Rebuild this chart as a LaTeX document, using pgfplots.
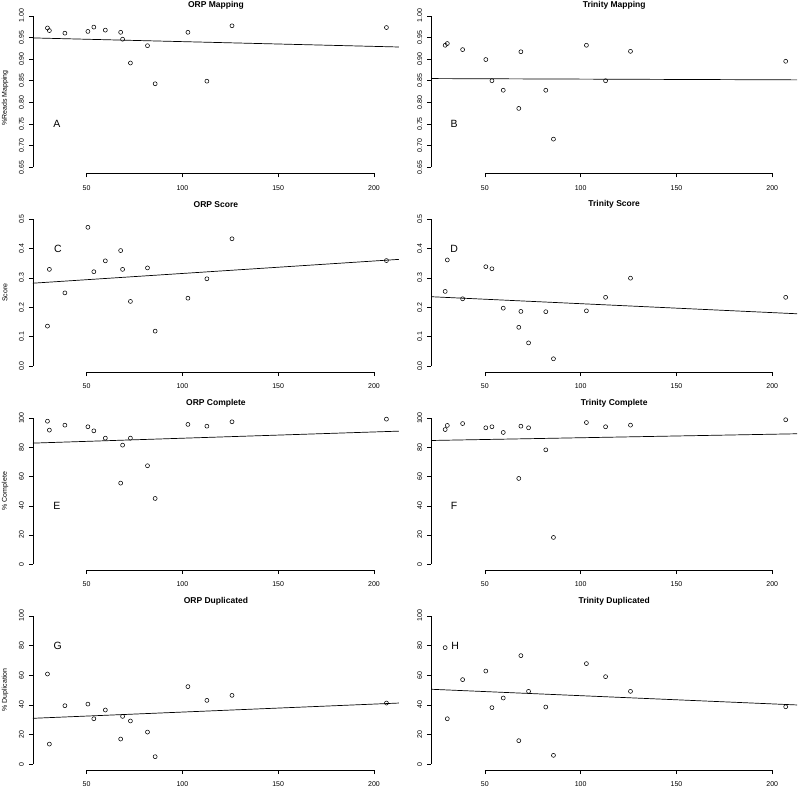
\documentclass[border=0pt]{standalone}
\usepackage{fontspec}
\setmainfont{Liberation Sans}
\usepackage{pgfplots}
\pgfplotsset{compat=1.18}
\newcommand{\tkf}{\fontsize{7}{8}\selectfont}
\pgfplotsset{
  rpanel/.style={
    scale only axis, width=366pt,
    xmin=22, xmax=213,
    axis x line*=bottom, axis y line*=left,
    axis line style={draw=none},
    xtick={50,100,150,200},
    tick align=outside, major tick length=4pt,
    tick style={black, line width=0.5pt},
    /pgf/number format/assume math mode=true,
    ticklabel style={font=\tkf},
    xticklabel style={anchor=north, yshift=-4.5pt},
    yticklabel style={rotate=90, anchor=south, yshift=1.5pt},
    label style={font=\tkf},
    ylabel style={at={(axis description cs:-0.076,0.5)}, anchor=center},
    title style={font=\bfseries\fontsize{8.5}{10}\selectfont, at={(axis description cs:0.5,1)}, anchor=center, yshift=3pt},
    clip=false,
  },
  pts/.style={only marks, mark=o, mark size=2pt, black, mark options={line width=0.55pt}},
  reg/.style={black, line width=0.7pt, no marks},
  axl/.style={black, line width=0.5pt, no marks},
  row1/.style={height=163.5pt, ymin=0.636, ymax=1.014, ytick={0.65,0.70,...,1.001},
    yticklabel style={/pgf/number format/.cd, fixed, fixed zerofill, precision=2},
    title style={yshift=-5pt}},
  row2/.style={height=158.8pt, ymin=-0.02, ymax=0.52, ytick={0,0.1,...,0.51},
    yticklabel style={/pgf/number format/.cd, fixed, fixed zerofill, precision=1}},
  row3/.style={height=157.7pt, ymin=-4, ymax=104, ytick={0,20,...,100}},
  row4/.style={height=160pt, ymin=-4, ymax=104, ytick={0,20,...,100}},
}
\newcommand{\letterfont}{\fontsize{10.5}{12}\selectfont}
\begin{document}
\begin{tikzpicture}
\useasboundingbox (0,0) rectangle (798pt,-787pt);
% ---------- Row 1 ----------
\begin{axis}[rpanel, row1, at={(32.9pt,-173.3pt)}, anchor=south west,
  title={ORP Mapping}, ylabel={\%Reads Mapping}, ylabel style={at={(axis description cs:-0.076,0.46)}}]
\addplot[axl] coordinates {(50,0.636) (200,0.636)};
\addplot[axl] coordinates {(22,0.65) (22,1.00)};
\addplot[pts] coordinates {
(29.6,0.972) (30.6,0.966) (38.7,0.960) (50.7,0.964) (53.8,0.974) (59.8,0.967)
(67.8,0.962) (68.8,0.946) (72.9,0.891) (81.8,0.931) (85.8,0.843) (102.9,0.962)
(112.8,0.849) (125.9,0.977) (206.5,0.973)};
\addplot[reg] coordinates {(22,0.949) (213,0.928)};
\node[font=\letterfont] at (axis cs:34.5,0.75) {A};
\end{axis}
\begin{axis}[rpanel, row1, at={(431.2pt,-173.3pt)}, anchor=south west,
  title={Trinity Mapping}]
\addplot[axl] coordinates {(50,0.636) (200,0.636)};
\addplot[axl] coordinates {(22,0.65) (22,1.00)};
\addplot[pts] coordinates {
(29.3,0.932) (30.4,0.936) (38.4,0.922) (50.5,0.899) (53.7,0.850) (59.6,0.828)
(67.7,0.786) (68.8,0.917) (81.8,0.828) (85.8,0.715) (103.0,0.932)
(113.0,0.850) (126.0,0.918) (207.0,0.895)};
\addplot[reg] coordinates {(22,0.855) (213,0.852)};
\node[font=\letterfont] at (axis cs:34.0,0.75) {B};
\end{axis}
% ---------- Row 2 ----------
\begin{axis}[rpanel, row2, at={(32.9pt,-372pt)}, anchor=south west,
  title={ORP Score}, ylabel={Score}]
\addplot[axl] coordinates {(50,-0.02) (200,-0.02)};
\addplot[axl] coordinates {(22,0) (22,0.5)};
\addplot[pts] coordinates {
(29.6,0.136) (30.6,0.329) (38.7,0.249) (50.7,0.472) (53.8,0.321) (59.8,0.358)
(67.8,0.393) (68.8,0.329) (72.9,0.220) (81.8,0.334) (85.8,0.119) (102.9,0.231)
(112.8,0.297) (125.9,0.433) (206.5,0.359)};
\addplot[reg] coordinates {(22,0.282) (213,0.363)};
\node[font=\letterfont] at (axis cs:35.0,0.40) {C};
\end{axis}
\begin{axis}[rpanel, row2, at={(431.2pt,-372pt)}, anchor=south west,
  title={Trinity Score}]
\addplot[axl] coordinates {(50,-0.02) (200,-0.02)};
\addplot[axl] coordinates {(22,0) (22,0.5)};
\addplot[pts] coordinates {
(29.3,0.254) (30.4,0.361) (38.4,0.229) (50.5,0.338) (53.7,0.331) (59.6,0.197)
(67.7,0.132) (68.8,0.186) (72.8,0.079) (81.8,0.185) (85.8,0.025) (103.0,0.188)
(113.0,0.234) (126.0,0.299) (207.0,0.234)};
\addplot[reg] coordinates {(22,0.236) (213,0.178)};
\node[font=\letterfont] at (axis cs:34.0,0.40) {D};
\end{axis}
% ---------- Row 3 ----------
\begin{axis}[rpanel, row3, at={(32.9pt,-570pt)}, anchor=south west,
  title={ORP Complete}, ylabel={\% Complete}]
\addplot[axl] coordinates {(50,-4) (200,-4)};
\addplot[axl] coordinates {(22,0) (22,100)};
\addplot[pts] coordinates {
(29.6,97.9) (30.6,91.8) (38.7,95.2) (50.7,94.1) (53.8,91.3) (59.8,86.3)
(67.8,55.5) (68.8,81.5) (72.9,86.3) (81.8,67.4) (85.8,45.0) (102.9,95.7)
(112.8,94.5) (125.9,97.5) (206.5,99.3)};
\addplot[reg] coordinates {(22,82.9) (213,91.1)};
\node[font=\letterfont] at (axis cs:34.5,40) {E};
\end{axis}
\begin{axis}[rpanel, row3, at={(431.2pt,-570pt)}, anchor=south west,
  title={Trinity Complete}]
\addplot[axl] coordinates {(50,-4) (200,-4)};
\addplot[axl] coordinates {(22,0) (22,100)};
\addplot[pts] coordinates {
(29.3,92.2) (30.4,95.0) (38.4,96.3) (50.5,93.4) (53.7,94.1) (59.6,90.2)
(67.7,58.7) (68.8,94.5) (72.8,93.4) (81.8,78.3) (85.8,18.3) (103.0,97.0)
(113.0,94.1) (126.0,95.2) (207.0,98.9)};
\addplot[reg] coordinates {(22,84.7) (213,89.3)};
\node[font=\letterfont] at (axis cs:34.0,40) {F};
\end{axis}
% ---------- Row 4 ----------
\begin{axis}[rpanel, row4, at={(32.9pt,-770pt)}, anchor=south west,
  title={ORP Duplicated}, ylabel={\% Duplication}]
\addplot[axl] coordinates {(50,-4) (200,-4)};
\addplot[axl] coordinates {(22,0) (22,100)};
\addplot[pts] coordinates {
(29.6,60.8) (30.6,13.5) (38.7,39.4) (50.7,40.5) (53.8,30.6) (59.8,36.5)
(67.8,16.9) (68.8,32.2) (72.9,29.1) (81.8,21.6) (85.8,5.0) (102.9,52.3)
(112.8,43.0) (125.9,46.4) (206.5,41.2)};
\addplot[reg] coordinates {(22,30.9) (213,41.2)};
\node[font=\letterfont] at (axis cs:35.0,80) {G};
\end{axis}
\begin{axis}[rpanel, row4, at={(431.2pt,-770pt)}, anchor=south west,
  title={Trinity Duplicated}]
\addplot[axl] coordinates {(50,-4) (200,-4)};
\addplot[axl] coordinates {(22,0) (22,100)};
\addplot[pts] coordinates {
(29.3,78.6) (30.4,30.6) (38.4,57.0) (50.5,62.8) (53.7,38.1) (59.6,44.6)
(67.7,15.8) (68.8,73.2) (72.8,49.1) (81.8,38.5) (85.8,5.9) (103.0,67.8)
(113.0,59.0) (126.0,49.1) (207.0,38.7)};
\addplot[reg] coordinates {(22,50.5) (213,39.9)};
\node[font=\letterfont] at (axis cs:34.5,80) {H};
\end{axis}
\end{tikzpicture}
\end{document}
